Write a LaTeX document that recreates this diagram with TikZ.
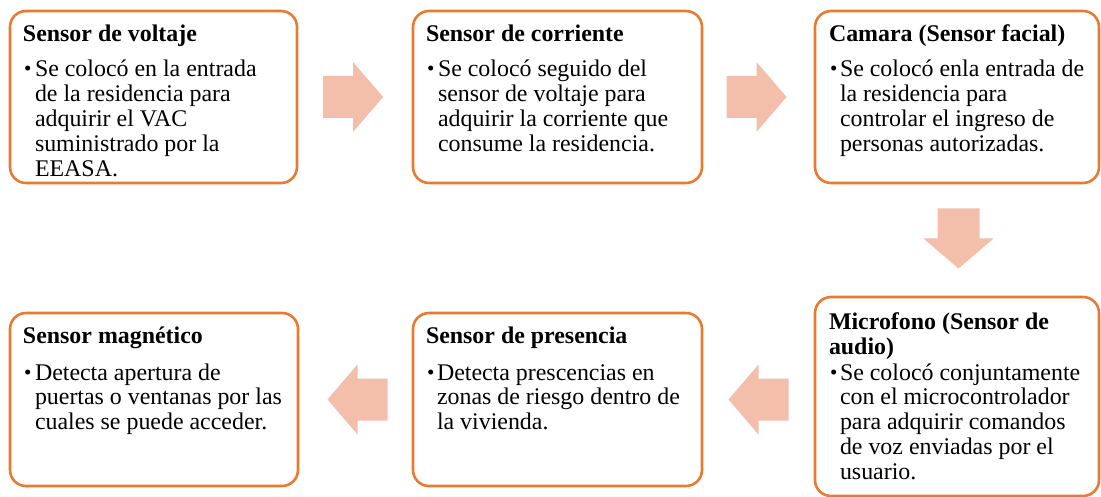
\documentclass[tikz,border=0pt]{standalone}
\usepackage{fontspec}
\setmainfont{Liberation Serif}
\usetikzlibrary{calc}
\definecolor{boxline}{HTML}{E97A32}
\definecolor{arrowfill}{HTML}{F4BFAA}
\newcommand{\bodyfnt}{\fontsize{23.9}{24.8}\selectfont}
\newcommand{\blockarrow}[2]{\fill[arrowfill, shift={(#1)}, rotate=#2] (-30,-21) -- (0,-21) -- (0,-35) -- (30,0) -- (0,35) -- (0,21) -- (-30,21) -- cycle;}
\newcommand{\lines}[1]{\parbox[t]{280pt}{\raggedright\bodyfnt #1}}
\newcommand{\smallbullet}{\raisebox{1pt}{\fontsize{21}{21}\selectfont\textbullet}}
\tikzset{
  box/.style={draw=boxline, line width=2.6pt, rounded corners=16pt, inner sep=0, outer sep=0, fill=white},
  txt/.style={anchor=base west, inner sep=0, outer sep=0, font=\bodyfnt},
  ttl/.style={txt, font=\bodyfnt\bfseries},
}
\begin{document}
\begin{tikzpicture}[x=1pt, y=-1pt]
\useasboundingbox (0,0) rectangle (1101,497);
% boxes
\node[box, minimum width=287, minimum height=172] (b1) at (153.5,97) {};
\node[box, minimum width=289, minimum height=172] (b2) at (557.5,97) {};
\node[box, minimum width=284, minimum height=172] (b3) at (957,97) {};
\node[box, minimum width=284, minimum height=199] (b4) at (957,396.5) {};
\node[box, minimum width=289, minimum height=173] (b5) at (557.5,399.5) {};
\node[box, minimum width=288, minimum height=173] (b6) at (154,399.5) {};
% texts box 1
\node[ttl] (t1) at ($(b1.north west)+(13,31)$) {Sensor de voltaje};
\node[txt] (u1) at ($(b1.north west)+(14,66)$) {\smallbullet};
\node[txt] (x1) at ($(b1.north west)+(25,66)$) {\lines{Se colocó en la entrada\\de la residencia para\\adquirir el VAC\\suministrado por la\\EEASA.}};
% box 2
\node[ttl] (t2) at ($(b2.north west)+(13,31)$) {Sensor de corriente};
\node[txt] (u2) at ($(b2.north west)+(14,66)$) {\smallbullet};
\node[txt] (x2) at ($(b2.north west)+(25,66)$) {\lines{Se colocó seguido del\\sensor de voltaje para\\adquirir la corriente que\\consume la residencia.}};
% box 3
\node[ttl] (t3) at ($(b3.north west)+(14,31)$) {Camara (Sensor facial)};
\node[txt] (u3) at ($(b3.north west)+(15,66)$) {\smallbullet};
\node[txt] (x3) at ($(b3.north west)+(25,66)$) {\lines{Se colocó enla entrada de\\la residencia para\\controlar el ingreso de\\personas autorizadas.}};
% box 4
\node[txt] (t4) at ($(b4.north west)+(14,33)$) {\lines{\bfseries Microfono (Sensor de\\audio)}};
\node[txt] (u4) at ($(b4.north west)+(15,83)$) {\smallbullet};
\node[txt] (x4) at ($(b4.north west)+(25,83)$) {\lines{Se colocó conjuntamente\\con el microcontrolador\\para adquirir comandos\\de voz enviadas por el\\usuario.}};
% box 5
\node[ttl] (t5) at ($(b5.north west)+(13,30)$) {Sensor de presencia};
\node[txt] (u5) at ($(b5.north west)+(14,67)$) {\smallbullet};
\node[txt] (x5) at ($(b5.north west)+(24,67)$) {\lines{Detecta prescencias en\\zonas de riesgo dentro de\\la vivienda.}};
% box 6
\node[ttl] (t6) at ($(b6.north west)+(13,30)$) {Sensor magnético};
\node[txt] (u6) at ($(b6.north west)+(14,67)$) {\smallbullet};
\node[txt] (x6) at ($(b6.north west)+(25,67)$) {\lines{Detecta apertura de\\puertas o ventanas por las\\cuales se puede acceder.}};
% arrows
\coordinate (a1) at ($(b1.east)!0.5!(b2.west)+(-2,0)$);
\coordinate (a2) at ($(b2.east)!0.5!(b3.west)+(-2,0)$);
\coordinate (a3) at ($(b3.south)!0.5!(b4.north)+(1.5,-1.5)$);
\coordinate (a4) at ($(b4.west)!0.5!(b5.east)$);
\coordinate (a5) at ($(b5.west)!0.5!(b6.east)+(2,0)$);
\coordinate (a4) at ($(a4|-b5.center)$);
\coordinate (a5) at ($(a5|-b5.center)$);
\blockarrow{a1}{0}
\blockarrow{a2}{0}
\blockarrow{a3}{-90}
\blockarrow{a4}{180}
\blockarrow{a5}{180}
\end{tikzpicture}
\end{document}
